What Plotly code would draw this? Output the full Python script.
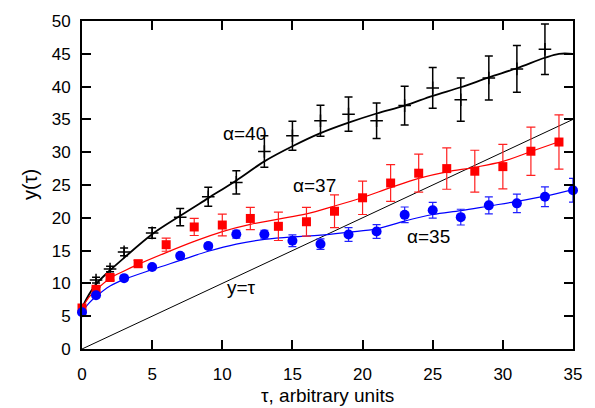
import plotly.graph_objects as go

# ---- data: measured points (tau, value, error) ----
tau40 = [1, 2, 3, 5, 7, 9, 11, 13, 15, 17, 19, 21, 23, 25, 27, 29, 31, 33]
y40 = [10.5, 12.2, 14.8, 17.7, 20.1, 23.2, 25.4, 30.1, 32.5, 34.8, 35.8, 34.8, 37.1, 39.8, 38.0, 41.3, 42.7, 45.7]
e40 = [0.45, 0.42, 0.6, 0.8, 1.3, 1.44, 1.76, 2.4, 2.2, 2.36, 2.6, 2.7, 2.95, 3.1, 3.3, 3.35, 3.57, 3.84]

tau37 = [0, 1, 2, 4, 6, 8, 10, 12, 14, 16, 18, 20, 22, 24, 26, 28, 30, 32, 34]
y37 = [6.25, 9.1, 10.9, 13.0, 15.9, 18.6, 18.9, 19.9, 18.7, 19.4, 21.0, 23.05, 25.3, 26.8, 27.5, 27.1, 27.8, 30.15, 31.55]
e37 = [0.3, 0.3, 0.4, 0.5, 1.0, 1.3, 1.65, 1.7, 2.16, 2.2, 2.5, 2.55, 2.8, 2.9, 3.15, 3.2, 3.4, 3.67, 4.14]

tau35 = [0, 1, 3, 5, 7, 9, 11, 13, 15, 17, 19, 21, 23, 25, 27, 29, 31, 33, 35]
y35 = [5.6, 8.2, 10.8, 12.5, 14.2, 15.7, 17.5, 17.5, 16.5, 16.0, 17.45, 17.9, 20.45, 21.15, 20.1, 21.9, 22.2, 23.2, 24.2]
e35 = [0.2, 0.3, 0.3, 0.3, 0.35, 0.4, 0.6, 0.6, 0.9, 0.8, 1.05, 1.05, 1.2, 1.2, 1.2, 1.3, 1.4, 1.5, 1.8]

# ---- data: fitted curves ----
fit40_t = [0, 0.5, 1, 2, 3, 5, 7, 9, 11, 13, 15, 17, 19, 21, 23, 25, 27, 29, 31, 33, 34, 35]
fit40_y = [6.3, 8.3, 9.9, 12.0, 13.9, 17.5, 20.3, 23.0, 25.7, 28.6, 30.9, 32.9, 34.5, 35.9, 37.1, 38.6, 39.9, 41.4, 42.8, 44.4, 45.0, 45.0]

fit37_t = [0, 0.5, 1, 2, 3, 4, 6, 8, 10, 12, 14, 16, 18, 20, 22, 24, 26, 28, 30, 32, 34]
fit37_y = [6.2, 7.9, 9.0, 10.8, 11.9, 12.9, 14.7, 16.4, 17.9, 19.0, 19.8, 20.6, 21.8, 23.1, 24.6, 26.0, 27.0, 27.7, 28.6, 30.1, 31.6]

fit35_t = [0, 0.5, 1, 2, 3, 5, 7, 9, 11, 13, 15, 17, 19, 21, 23, 25, 27, 29, 31, 33, 35]
fit35_y = [5.6, 7.0, 8.0, 9.6, 10.6, 12.1, 13.5, 14.9, 16.0, 16.7, 17.1, 17.35, 17.8, 18.3, 19.5, 20.5, 21.1, 21.8, 22.5, 23.3, 24.3]

diag_t = [0, 35]
diag_y = [0, 35]

labels = ["α=40", "α=37", "α=35", "y=τ"]
label_x = [11.6, 16.6, 24.7, 11.4]
label_y = [32.9, 25.0, 17.2, 9.4]

x_ticks = [0, 5, 10, 15, 20, 25, 30, 35]
y_ticks = [0, 5, 10, 15, 20, 25, 30, 35, 40, 45, 50]

FONT = "Liberation Sans, Arial, Helvetica, sans-serif"

fig = go.Figure()

fig.add_trace(go.Scatter(x=diag_t, y=diag_y, mode="lines",
                         line=dict(color="black", width=1), hoverinfo="skip"))
fig.add_trace(go.Scatter(x=fit40_t, y=fit40_y, mode="lines", line_shape="spline",
                         line=dict(color="black", width=1.8)))
fig.add_trace(go.Scatter(x=fit37_t, y=fit37_y, mode="lines", line_shape="spline",
                         line=dict(color="#ff0000", width=1.2)))
fig.add_trace(go.Scatter(x=fit35_t, y=fit35_y, mode="lines", line_shape="spline",
                         line=dict(color="#0000ff", width=1.2)))

fig.add_trace(go.Scatter(x=tau40, y=y40, mode="markers", cliponaxis=False,
                         marker=dict(symbol="cross-thin", size=9, color="black",
                                     line=dict(color="black", width=1.5)),
                         error_y=dict(type="data", array=e40, color="black",
                                      thickness=1.5, width=4)))
fig.add_trace(go.Scatter(x=tau37, y=y37, mode="markers", cliponaxis=False,
                         marker=dict(symbol="square", size=9, color="#ff0000"),
                         error_y=dict(type="data", array=e37, color="#ff2020",
                                      thickness=1.2, width=4.5)))
fig.add_trace(go.Scatter(x=tau35, y=y35, mode="markers", cliponaxis=False,
                         marker=dict(symbol="circle", size=10, color="#0000ff"),
                         error_y=dict(type="data", array=e35, color="#2020ff",
                                      thickness=1.2, width=4)))

for t, lx, ly in zip(labels, label_x, label_y):
    fig.add_annotation(x=lx, y=ly, text=t, showarrow=False,
                       font=dict(family=FONT, size=19, color="black"),
                       xanchor="center", yanchor="middle")

fig.add_annotation(xref="paper", yref="paper", x=0.5, y=0, yshift=-46,
                   text="τ, arbitrary units", showarrow=False,
                   xanchor="center", yanchor="middle",
                   font=dict(family=FONT, size=19, color="black"))
fig.add_annotation(xref="paper", yref="paper", x=0, y=0.5, xshift=-52,
                   text="y(τ)", showarrow=False, textangle=-90,
                   xanchor="center", yanchor="middle",
                   font=dict(family=FONT, size=20, color="black"))

axis_common = dict(showgrid=False, zeroline=False, showline=True, linecolor="black",
                   linewidth=2, mirror="ticks", ticks="inside", ticklen=9,
                   tickwidth=1.5, tickcolor="black",
                   tickfont=dict(family=FONT, size=17, color="black"))

fig.update_xaxes(range=[0, 35], tickvals=x_ticks, ticktext=[str(v) for v in x_ticks],
                 ticklabelstandoff=9, **axis_common)
fig.update_yaxes(range=[0, 50], tickvals=y_ticks, ticktext=[str(v) for v in y_ticks],
                 ticklabelstandoff=6, **axis_common)

fig.update_layout(width=595, height=408, showlegend=False,
                  margin=dict(l=82, r=22, t=13, b=59),
                  paper_bgcolor="white", plot_bgcolor="white",
                  font=dict(family=FONT, size=16, color="black"))

fig.write_html("out.html")
